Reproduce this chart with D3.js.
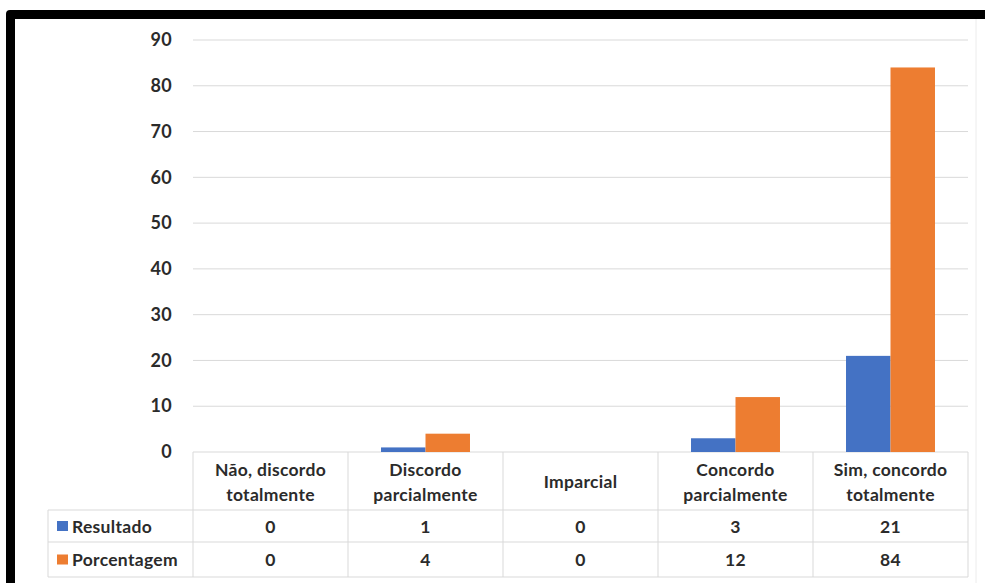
<!DOCTYPE html>
<html>
<head>
<meta charset="utf-8">
<script src="https://cdn.jsdelivr.net/npm/d3@7"></script>
<style>
  html, body { margin: 0; padding: 0; background: #fff; }
  svg { display: block; }
  text { font-family: Lato, "Open Sans", sans-serif; font-weight: 700; fill: #2b2b2b; letter-spacing: 0.3px; }
</style>
</head>
<body>
<svg id="chart" width="985" height="583"></svg>
<script>
// Survey answers: count of respondents and percentage per answer
const categories = [
  ["Não, discordo", "totalmente"],
  ["Discordo", "parcialmente"],
  ["Imparcial"],
  ["Concordo", "parcialmente"],
  ["Sim, concordo", "totalmente"]
];
const seriesNames = ["Resultado", "Porcentagem"];
const resultado = [0, 1, 0, 3, 21];
const porcentagem = [0, 4, 0, 12, 84];
const yTicks = [0, 10, 20, 30, 40, 50, 60, 70, 80, 90];
const colors = ["#4472C4", "#ED7D31"];

const series = [resultado, porcentagem];
const catKeys = categories.map(c => c.join(" "));

const svg = d3.select("#chart");

const plot = { left: 193, right: 968, top: 40, bottom: 452 };
const table = { legendLeft: 48, headerBottom: 510, row1Bottom: 542, row2Bottom: 577 };
const gridColor = "#d9d9d9";
const fs = 17.5;

const x = d3.scaleBand().domain(catKeys).range([plot.left, plot.right]).padding(0);
const xSub = d3.scaleBand().domain(seriesNames).range([0, x.bandwidth()])
  .paddingInner(0).paddingOuter(0.742);
const y = d3.scaleLinear().domain([0, 90]).range([plot.bottom, plot.top]);

// Horizontal gridlines
svg.append("g").selectAll("line").data(yTicks).join("line")
  .attr("x1", plot.left).attr("x2", plot.right)
  .attr("y1", d => y(d)).attr("y2", d => y(d))
  .attr("stroke", gridColor).attr("stroke-width", 1);

// Value axis labels
const yAxis = d3.axisLeft(y).tickValues(yTicks).tickSize(0).tickPadding(0);
const yg = svg.append("g").attr("transform", `translate(${172},0)`).call(yAxis);
yg.select(".domain").remove();
yg.selectAll("text").attr("font-size", fs + 0.5).attr("font-family", null).attr("fill", null);

// Bars
seriesNames.forEach((name, si) => {
  svg.append("g").selectAll("rect").data(series[si]).join("rect")
    .attr("x", (d, i) => x(catKeys[i]) + xSub(name))
    .attr("width", xSub.bandwidth())
    .attr("y", d => y(d))
    .attr("height", d => y(0) - y(d))
    .attr("fill", colors[si]);
});

// Data table grid
const tg = svg.append("g").attr("stroke", gridColor).attr("stroke-width", 1).attr("fill", "none");
const bounds = catKeys.map(k => x(k)).concat([plot.right]);
bounds.forEach(bx => {
  tg.append("line").attr("x1", bx).attr("x2", bx).attr("y1", plot.bottom).attr("y2", table.row2Bottom);
});
tg.append("line").attr("x1", table.legendLeft).attr("x2", table.legendLeft)
  .attr("y1", table.headerBottom).attr("y2", table.row2Bottom);
[table.headerBottom, table.row1Bottom, table.row2Bottom].forEach(ly => {
  tg.append("line").attr("x1", table.legendLeft).attr("x2", plot.right).attr("y1", ly).attr("y2", ly);
});

// Category headers
const hdr = svg.append("g");
categories.forEach((lines, i) => {
  const cx = x(catKeys[i]) + x.bandwidth() / 2;
  const midY = (plot.bottom + table.headerBottom) / 2 + 0.5;
  const lh = 25;
  lines.forEach((t, li) => {
    hdr.append("text")
      .attr("x", cx)
      .attr("y", midY + (li - (lines.length - 1) / 2) * lh)
      .attr("text-anchor", "middle")
      .attr("dominant-baseline", "central")
      .attr("font-size", fs)
      .text(t);
  });
});

// Table rows: legend keys and values
const rowMids = [(table.headerBottom + table.row1Bottom) / 2, (table.row1Bottom + table.row2Bottom) / 2];
seriesNames.forEach((name, si) => {
  const ry = rowMids[si];
  svg.append("rect").attr("x", 57).attr("y", ry - 5).attr("width", 11).attr("height", 10).attr("fill", colors[si]);
  svg.append("text").attr("x", 72).attr("y", ry)
    .attr("dominant-baseline", "central").attr("font-size", fs).text(name);
  svg.append("g").selectAll("text").data(series[si]).join("text")
    .attr("x", (d, i) => x(catKeys[i]) + x.bandwidth() / 2)
    .attr("y", ry)
    .attr("text-anchor", "middle")
    .attr("dominant-baseline", "central")
    .attr("font-size", fs)
    .text(d => d);
});

// Faint chart-area edge on the right
svg.append("line").attr("x1", 976).attr("x2", 976).attr("y1", 19).attr("y2", 583)
  .attr("stroke", "#ececec").attr("stroke-width", 1);

// Heavy black frame along the top and left edges
svg.append("path")
  .attr("d", "M6,583 V14 Q6,10 10,10 H985 V19 H15 V583 Z")
  .attr("fill", "#000");
</script>
</body>
</html>
